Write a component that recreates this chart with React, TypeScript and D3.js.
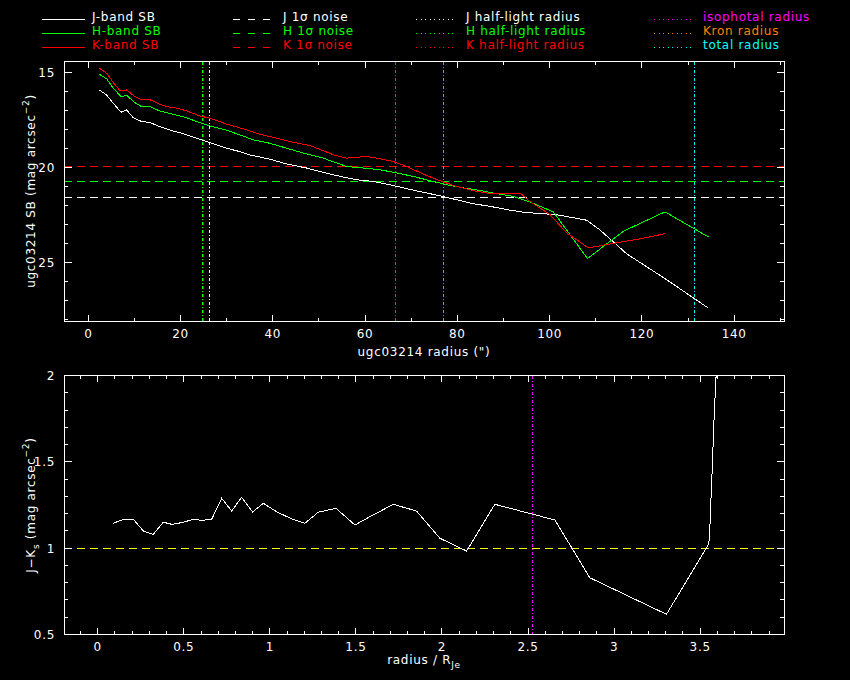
import React from "react";
import * as d3 from "d3";

// surface brightness profiles (radius in arcsec, mag arcsec^-2)
const jRadius = [2.4, 4.0, 5.4, 7.1, 8.3, 9.75, 11.2, 13.4, 15.5, 18.4, 20.6, 24.2, 26.4, 30.0, 32.9, 35.0, 39.4, 43.0, 47.3, 50.9, 54.6, 58.2, 61.8, 65.4, 69.0, 72.6, 76.2, 79.8, 83.4, 87.1, 90.7, 94.3, 97.9, 101.5, 108.0, 110.9, 116.7, 125.4, 134.4];
const jSB = [15.93, 16.2, 16.63, 17.1, 16.98, 17.39, 17.56, 17.65, 17.86, 18.09, 18.23, 18.53, 18.7, 19.0, 19.18, 19.35, 19.58, 19.83, 20.04, 20.27, 20.48, 20.66, 20.75, 20.92, 21.13, 21.32, 21.5, 21.71, 21.92, 22.06, 22.23, 22.37, 22.44, 22.5, 22.79, 23.3, 24.56, 25.93, 27.42];

const hRadius = [2.4, 4.0, 5.4, 7.1, 8.3, 10.1, 11.6, 13.4, 15.5, 18.4, 20.6, 24.2, 26.4, 30.0, 32.9, 35.8, 39.4, 43.7, 46.6, 50.9, 56.0, 59.6, 63.2, 66.8, 70.4, 74.1, 77.7, 81.3, 84.9, 88.5, 92.1, 95.7, 100.8, 108.2, 116.0, 125.0, 134.4];
const hSB = [15.1, 15.35, 15.84, 16.28, 16.21, 16.6, 16.81, 16.81, 17.04, 17.21, 17.34, 17.65, 17.83, 18.05, 18.3, 18.56, 18.74, 19.05, 19.25, 19.52, 19.96, 20.04, 20.13, 20.3, 20.48, 20.71, 20.92, 21.09, 21.22, 21.39, 21.53, 21.83, 22.35, 24.81, 23.37, 22.35, 23.67];

const kRadius = [2.4, 4.0, 5.4, 6.9, 8.3, 10.1, 11.6, 13.4, 15.5, 17.0, 19.2, 21.3, 24.2, 26.4, 30.0, 33.6, 37.2, 40.8, 44.4, 48.1, 53.1, 56.0, 58.9, 61.1, 63.2, 66.1, 69.0, 72.6, 76.2, 79.8, 83.4, 87.1, 90.7, 93.6, 95.7, 100.1, 103.7, 108.4, 112.4, 119.6, 125.0];
const kSB = [14.79, 15.05, 15.53, 15.98, 15.93, 16.28, 16.45, 16.45, 16.68, 16.81, 16.89, 17.03, 17.3, 17.42, 17.73, 17.98, 18.26, 18.47, 18.68, 18.86, 19.34, 19.52, 19.46, 19.46, 19.55, 19.7, 19.96, 20.36, 20.71, 21.01, 21.23, 21.39, 21.36, 21.36, 21.8, 22.5, 23.46, 24.25, 24.07, 23.77, 23.5];

// 1 sigma noise levels
const noiseLevels = [
  { band: "J", value: 21.6, color: "#ffffff" },
  { band: "H", value: 20.75, color: "#00ff00" },
  { band: "K", value: 19.95, color: "#ff0000" },
];

// characteristic radii (arcsec)
const radiusMarks = [
  { name: "H half-light radius", value: 24.8, color: "#00ff00" },
  { name: "K half-light radius", value: 24.9, color: "#ff0000" },
  { name: "J half-light radius", value: 26.3, color: "#ffffff" },
  { name: "isophotal radius", value: 66.5, color: "#ff00ff" },
  { name: "Kron radius", value: 77.0, color: "#ff8000" },
  { name: "total radius", value: 131.3, color: "#00ffff" },
];

// J-Ks colour profile
const colorRadius = [0.091, 0.149, 0.207, 0.265, 0.323, 0.381, 0.43, 0.49, 0.555, 0.604, 0.662, 0.72, 0.778, 0.836, 0.9, 0.962, 1.039, 1.127, 1.204, 1.281, 1.384, 1.494, 1.581, 1.717, 1.852, 1.988, 2.143, 2.307, 2.656, 2.859, 3.304, 3.55, 3.556, 3.562, 3.569, 3.575, 3.581, 3.589, 3.595];
const colorJK = [1.144, 1.167, 1.167, 1.099, 1.08, 1.15, 1.138, 1.148, 1.167, 1.161, 1.167, 1.289, 1.215, 1.295, 1.21, 1.26, 1.211, 1.169, 1.144, 1.208, 1.231, 1.134, 1.182, 1.254, 1.215, 1.057, 0.983, 1.254, 1.163, 0.828, 0.616, 1.024, 1.105, 1.269, 1.434, 1.598, 1.759, 1.927, 2.05];
const colorIsophotal = 2.524;

const legendRows = [
  [
    { label: "J-band SB", color: "#ffffff", kind: "solid" },
    { label: "H-band SB", color: "#00ff00", kind: "solid" },
    { label: "K-band SB", color: "#ff0000", kind: "solid" },
  ],
  [
    { label: "J 1σ noise", color: "#ffffff", kind: "dash" },
    { label: "H 1σ noise", color: "#00ff00", kind: "dash" },
    { label: "K 1σ noise", color: "#ff0000", kind: "dash" },
  ],
  [
    { label: "J half-light radius", color: "#ffffff", kind: "dot" },
    { label: "H half-light radius", color: "#00ff00", kind: "dot" },
    { label: "K half-light radius", color: "#ff0000", kind: "dot" },
  ],
  [
    { label: "isophotal radius", color: "#ff00ff", kind: "dot" },
    { label: "Kron radius", color: "#ff8000", kind: "dot" },
    { label: "total radius", color: "#00ffff", kind: "dot" },
  ],
];

const FONT = "'DejaVu Sans', sans-serif";
const FS = 12;
const LS = 0.7;

const round = (v: number) => Math.round(v * 1000) / 1000;

interface FrameProps {
  x: d3.ScaleLinear<number, number>;
  y: d3.ScaleLinear<number, number>;
  xMajor: number[];
  xMinor: number[];
  yMajor: number[];
  yMinor: number[];
  xFmt: (v: number) => string;
  yFmt: (v: number) => string;
}

const Frame: React.FC<FrameProps> = ({ x, y, xMajor, xMinor, yMajor, yMinor, xFmt, yFmt }) => {
  const [x0, x1] = x.range();
  const [y0, y1] = y.range();
  const top = Math.min(y0, y1);
  const bot = Math.max(y0, y1);
  const xt = (v: number, len: number, k: string) => (
    <g key={k}>
      <line x1={x(v)} x2={x(v)} y1={bot} y2={bot - len} stroke="#fff" />
      <line x1={x(v)} x2={x(v)} y1={top} y2={top + len} stroke="#fff" />
    </g>
  );
  const yt = (v: number, len: number, k: string) => (
    <g key={k}>
      <line x1={x0} x2={x0 + len} y1={y(v)} y2={y(v)} stroke="#fff" />
      <line x1={x1} x2={x1 - len} y1={y(v)} y2={y(v)} stroke="#fff" />
    </g>
  );
  return (
    <g>
      <rect x={x0} y={top} width={x1 - x0} height={bot - top} fill="none" stroke="#fff" />
      {xMinor.map((v, i) => xt(v, 3.5, "xm" + i))}
      {xMajor.map((v, i) => xt(v, 6, "xM" + i))}
      {yMinor.map((v, i) => yt(v, 4, "ym" + i))}
      {yMajor.map((v, i) => yt(v, 7.5, "yM" + i))}
      {xMajor.map((v, i) => (
        <text key={"xl" + i} x={x(v)} y={bot + 17} textAnchor="middle" fill="#fff" fontSize={FS} letterSpacing={LS}>
          {xFmt(v)}
        </text>
      ))}
      {yMajor.map((v, i) => (
        <text key={"yl" + i} x={55} y={y(v) + 4.5} textAnchor="end" fill="#fff" fontSize={FS} letterSpacing={LS}>
          {yFmt(v)}
        </text>
      ))}
    </g>
  );
};

export default function App() {
  // upper panel
  const x1 = d3.scaleLinear().domain([-5.27, 150.8]).range([64, 784]);
  const y1 = d3.scaleLinear().domain([14.44, 28.1]).range([61.7, 321]);
  // lower panel
  const x2 = d3.scaleLinear().domain([-0.196, 3.987]).range([64, 784]);
  const y2 = d3.scaleLinear().domain([0.5, 2]).range([634.3, 375.7]);

  const sbLine = (r: number[], v: number[]) =>
    d3
      .line<number>()
      .x((_, i) => x1(r[i]))
      .y((d) => y1(d))(v) ?? "";

  const colorLine =
    d3
      .line<number>()
      .x((_, i) => x2(colorRadius[i]))
      .y((d) => y2(d))(colorJK) ?? "";

  const dashFor = (kind: string) => (kind === "dash" ? "7,8" : kind === "dot" ? "1,3.5" : undefined);
  const legendX = [
    { x1: 42, x2: 85, tx: 92 },
    { x1: 233, x2: 277, tx: 283 },
    { x1: 416, x2: 456, tx: 466 },
    { x1: 654, x2: 694, tx: 703 },
  ];

  return (
    <svg
      width={850}
      height={680}
      shapeRendering="crispEdges"
      style={{ position: "fixed", left: 0, top: 0, background: "#000", fontFamily: FONT }}
    >
      <rect width={850} height={680} fill="#000" />
      <defs>
        <clipPath id="clip-top">
          <rect x={64} y={61.7} width={720} height={259.3} />
        </clipPath>
        <clipPath id="clip-bot">
          <rect x={64} y={375.7} width={720} height={258.6} />
        </clipPath>
      </defs>

      {/* Legend */}
      {legendRows.map((col, ci) =>
        col.map((d, ri) => (
          <g key={ci + "-" + ri}>
            <line
              x1={legendX[ci].x1}
              x2={legendX[ci].x2}
              y1={19.5 + ri * 14}
              y2={19.5 + ri * 14}
              stroke={d.color}
              strokeDasharray={dashFor(d.kind)}
            />
            <text x={legendX[ci].tx} y={21 + ri * 14} fill={d.color} fontSize={FS} letterSpacing={LS}>
              {d.label}
            </text>
          </g>
        )),
      )}

      {/* Upper panel */}
      <g clipPath="url(#clip-top)">
        {noiseLevels.map((n) => (
          <line key={n.band} x1={64} x2={784} y1={y1(n.value)} y2={y1(n.value)} stroke={n.color} strokeDasharray="8,5" />
        ))}
        {radiusMarks.map((m) => (
          <line key={m.name} x1={x1(m.value)} x2={x1(m.value)} y1={61.7} y2={321} stroke={m.color} strokeDasharray="3,2,1,2" />
        ))}
        <path d={sbLine(jRadius, jSB)} fill="none" stroke="#ffffff" />
        <path d={sbLine(hRadius, hSB)} fill="none" stroke="#00ff00" />
        <path d={sbLine(kRadius, kSB)} fill="none" stroke="#ff0000" />
      </g>
      <Frame
        x={x1}
        y={y1}
        xMajor={d3.range(0, 141, 20)}
        xMinor={d3.range(0, 151, 10)}
        yMajor={[15, 20, 25]}
        yMinor={d3.range(15, 29, 1)}
        xFmt={(v) => String(v)}
        yFmt={(v) => String(v)}
      />
      <text x={424} y={356} textAnchor="middle" fill="#fff" fontSize={FS} letterSpacing={LS}>
        ugc03214 radius (")
      </text>
      <text transform="translate(35,191) rotate(-90)" textAnchor="middle" fill="#fff" fontSize={FS} letterSpacing={LS}>
        ugc03214 SB (mag arcsec
        <tspan dy={-6} fontSize={9}>−2</tspan>
        <tspan dy={6}>)</tspan>
      </text>

      {/* Lower panel */}
      <g clipPath="url(#clip-bot)">
        <line x1={64} x2={784} y1={y2(1)} y2={y2(1)} stroke="#ffff00" strokeDasharray="8,5" />
        <line
          x1={x2(colorIsophotal)}
          x2={x2(colorIsophotal)}
          y1={375.7}
          y2={634.3}
          stroke="#ff00ff"
          strokeDasharray="3,2,1,2"
        />
        <path d={colorLine} fill="none" stroke="#ffffff" />
      </g>
      <Frame
        x={x2}
        y={y2}
        xMajor={d3.range(0, 8).map((i) => round(i * 0.5))}
        xMinor={d3.range(0, 41).map((i) => round(i * 0.1 - 0.1))}
        yMajor={[0.5, 1, 1.5, 2]}
        yMinor={d3.range(0, 16).map((i) => round(0.5 + i * 0.1))}
        xFmt={(v) => String(v)}
        yFmt={(v) => String(v)}
      />
      <text x={424} y={664} textAnchor="middle" fill="#fff" fontSize={FS} letterSpacing={LS}>
        radius / R
        <tspan dy={4} fontSize={9}>Je</tspan>
      </text>
      <text transform="translate(35,505) rotate(-90)" textAnchor="middle" fill="#fff" fontSize={FS} letterSpacing={LS}>
        J−K
        <tspan dy={4} fontSize={9}>s</tspan>
        <tspan dy={-4}> (mag arcsec</tspan>
        <tspan dy={-6} fontSize={9}>−2</tspan>
        <tspan dy={6}>)</tspan>
      </text>
    </svg>
  );
}
